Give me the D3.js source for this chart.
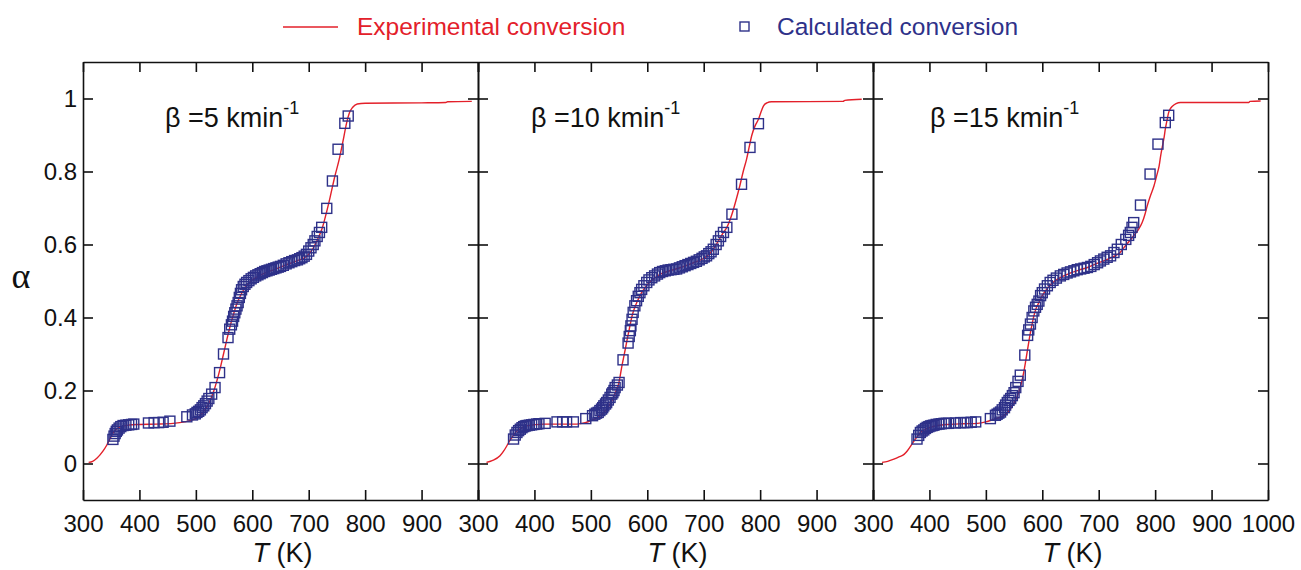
<!DOCTYPE html>
<html>
<head>
<meta charset="utf-8">
<script src="https://cdn.jsdelivr.net/npm/d3@7"></script>
<style>
  html, body { margin: 0; padding: 0; background: #fff; }
  svg { display: block; font-family: "Liberation Sans", Arial, Helvetica, sans-serif; }
</style>
</head>
<body>
<svg id="chart" width="1301" height="570"></svg>
<script>
// Heating rates, one panel each
const rates = [5, 10, 15];

// Temperature axis ticks (K) and conversion axis ticks
const tempTicks = [300, 400, 500, 600, 700, 800, 900, 1000];
const alphaTicks = [0, 0.2, 0.4, 0.6, 0.8, 1];

// Experimental conversion curves [T (K), alpha]
const exp5 = [[310,0.003],[317,0.006],[325,0.015],[335,0.033],[342,0.05],[348,0.068],[354,0.085],[360,0.095],[368,0.101],[380,0.105],[400,0.107],[430,0.108],[460,0.11],[480,0.114],[495,0.12],[505,0.128],[515,0.145],[524,0.168],[531,0.195],[537,0.225],[543,0.26],[549,0.3],[555,0.34],[560,0.372],[566,0.405],[572,0.435],[580,0.463],[590,0.488],[602,0.505],[618,0.519],[640,0.532],[660,0.544],[680,0.556],[696,0.567],[706,0.585],[716,0.615],[724,0.645],[731,0.685],[738,0.73],[746,0.785],[754,0.833],[761,0.885],[767,0.932],[772,0.96],[778,0.976],[786,0.985],[800,0.987],[900,0.988],[943,0.989],[946,0.991],[989,0.992]];

const exp10 = [[315,0.003],[325,0.008],[339,0.021],[345,0.033],[351,0.048],[356,0.062],[360,0.071],[365,0.082],[369,0.089],[377,0.097],[386,0.103],[400,0.106],[416,0.108],[440,0.108],[475,0.108],[490,0.112],[499,0.117],[508,0.123],[516,0.13],[522,0.138],[528,0.149],[534,0.163],[540,0.181],[545,0.2],[549,0.217],[552,0.24],[555,0.267],[558,0.29],[561,0.313],[564,0.337],[567,0.36],[570,0.383],[573,0.404],[577,0.424],[582,0.443],[590,0.468],[600,0.49],[612,0.507],[625,0.52],[640,0.528],[655,0.535],[670,0.543],[685,0.552],[700,0.562],[710,0.574],[717,0.587],[726,0.61],[735,0.633],[741,0.647],[750,0.683],[757,0.72],[764,0.761],[770,0.8],[776,0.834],[781,0.87],[785,0.898],[791,0.925],[797,0.943],[802,0.965],[806,0.98],[812,0.988],[820,0.991],[947,0.992],[950,0.995],[980,0.998]];

const exp15 = [[316,0.003],[326,0.006],[337,0.012],[346,0.018],[355,0.025],[361,0.035],[367,0.048],[371,0.058],[375,0.067],[380,0.077],[384,0.085],[392,0.093],[402,0.099],[415,0.104],[431,0.107],[460,0.109],[485,0.11],[500,0.114],[514,0.121],[524,0.126],[532,0.131],[540,0.143],[547,0.158],[553,0.175],[558,0.194],[563,0.22],[567,0.249],[570,0.275],[573,0.304],[576,0.332],[579,0.359],[582,0.382],[585,0.404],[589,0.425],[594,0.441],[600,0.46],[610,0.482],[622,0.5],[635,0.512],[650,0.522],[665,0.53],[680,0.537],[695,0.547],[710,0.556],[725,0.566],[738,0.578],[745,0.592],[753,0.607],[762,0.624],[770,0.64],[777,0.66],[782,0.683],[786,0.706],[792,0.735],[798,0.761],[803,0.79],[807,0.815],[810,0.845],[813,0.87],[816,0.895],[818,0.916],[821,0.94],[824,0.962],[827,0.972],[830,0.978],[837,0.986],[845,0.989],[966,0.989],[968,0.992],[987,0.993]];

// Calculated conversion points [T (K), alpha]
const calc5 = [[353,0.066],[355,0.075],[357,0.082],[359,0.088],[361,0.092],[364,0.097],[367,0.101],[371,0.104],[376,0.105],[381,0.106],[386,0.107],[390,0.108],[416,0.111],[426,0.112],[434,0.112],[442,0.113],[454,0.116],[484,0.128],[494,0.133],[499,0.136],[502,0.14],[505,0.143],[508,0.147],[511,0.153],[514,0.158],[517,0.164],[520,0.171],[523,0.178],[528,0.19],[534,0.208],[542,0.249],[549,0.3],[557,0.345],[560,0.368],[563,0.38],[565,0.39],[567,0.403],[569,0.413],[571,0.423],[573,0.432],[575,0.441],[577,0.455],[579,0.466],[581,0.476],[584,0.485],[587,0.491],[590,0.496],[594,0.501],[598,0.506],[602,0.51],[606,0.514],[610,0.517],[614,0.52],[618,0.523],[622,0.526],[626,0.528],[630,0.53],[634,0.532],[638,0.534],[642,0.536],[646,0.538],[650,0.54],[655,0.543],[660,0.547],[665,0.55],[670,0.553],[675,0.556],[680,0.558],[684,0.561],[688,0.564],[692,0.568],[696,0.573],[700,0.582],[704,0.591],[708,0.6],[711,0.61],[715,0.622],[719,0.633],[723,0.647],[732,0.699],[742,0.774],[752,0.861],[764,0.932],[770,0.952]];

const calc10 = [[363,0.067],[366,0.078],[369,0.085],[372,0.09],[375,0.094],[378,0.098],[381,0.101],[384,0.103],[387,0.104],[391,0.105],[395,0.106],[399,0.107],[404,0.108],[408,0.109],[419,0.11],[440,0.114],[450,0.114],[457,0.114],[469,0.114],[491,0.123],[503,0.131],[507,0.135],[510,0.138],[513,0.14],[516,0.145],[519,0.149],[521,0.153],[523,0.158],[526,0.163],[528,0.167],[531,0.174],[534,0.181],[537,0.19],[539,0.194],[541,0.2],[543,0.208],[547,0.215],[550,0.222],[557,0.284],[566,0.33],[568,0.348],[570,0.364],[571,0.377],[573,0.395],[575,0.414],[578,0.432],[581,0.446],[584,0.458],[587,0.468],[590,0.477],[594,0.487],[599,0.496],[603,0.503],[608,0.509],[613,0.514],[618,0.519],[622,0.523],[627,0.526],[632,0.528],[637,0.53],[642,0.531],[647,0.532],[652,0.533],[657,0.536],[662,0.539],[667,0.542],[672,0.545],[677,0.548],[682,0.551],[687,0.554],[692,0.558],[697,0.562],[701,0.566],[705,0.569],[709,0.575],[713,0.58],[717,0.587],[722,0.6],[726,0.61],[730,0.622],[735,0.633],[741,0.647],[750,0.683],[767,0.765],[782,0.866],[797,0.931]];

const calc15 = [[378,0.067],[381,0.077],[384,0.085],[387,0.089],[390,0.092],[393,0.096],[396,0.099],[399,0.101],[402,0.103],[405,0.104],[408,0.105],[412,0.107],[417,0.108],[421,0.109],[426,0.11],[430,0.11],[434,0.11],[446,0.111],[455,0.112],[461,0.112],[467,0.112],[474,0.113],[482,0.114],[508,0.123],[517,0.132],[520,0.135],[523,0.138],[526,0.141],[529,0.147],[533,0.153],[535,0.16],[538,0.167],[541,0.173],[544,0.178],[547,0.186],[550,0.194],[553,0.208],[557,0.225],[561,0.242],[569,0.297],[574,0.351],[576,0.366],[579,0.382],[582,0.4],[585,0.418],[588,0.428],[591,0.436],[594,0.445],[597,0.46],[600,0.468],[604,0.478],[609,0.487],[614,0.496],[619,0.502],[625,0.508],[632,0.514],[638,0.518],[644,0.522],[650,0.525],[656,0.528],[662,0.531],[668,0.533],[674,0.535],[680,0.537],[686,0.54],[692,0.545],[698,0.55],[703,0.555],[709,0.56],[715,0.565],[721,0.569],[727,0.578],[733,0.587],[740,0.6],[748,0.614],[753,0.625],[756,0.633],[759,0.647],[762,0.66],[774,0.708],[791,0.793],[805,0.875],[818,0.934],[824,0.954]];

const expSeries = [exp5, exp10, exp15];
const calcSeries = [calc5, calc10, calc15];

const RED = "#e3202a";
const BLUE = "#2e3189";

const svg = d3.select("#chart");

// Layout of the three side-by-side panels
const plotTop = 62, plotBottom = 500, panelW = 395;
const lefts = [83, 478, 873];
const labelOffsets = [82, 53, 57];

const y = d3.scaleLinear().domain([-0.1, 1.1]).range([plotBottom, plotTop]);

lefts.forEach((left, i) => {
  const x = d3.scaleLinear().domain([300, 1000]).range([left, left + panelW]);
  const g = svg.append("g");

  // inward ticks on all four sides
  const showLast = i === 2;
  const xb = d3.axisBottom(x).tickValues(tempTicks).tickSizeInner(-10).tickSizeOuter(0).tickPadding(15)
    .tickFormat(d => (d === 1000 && !showLast) ? "" : d);
  const xt = d3.axisTop(x).tickValues(tempTicks).tickSizeInner(-10).tickSizeOuter(0).tickFormat("");
  const yl = d3.axisLeft(y).tickValues(alphaTicks).tickSizeInner(-10).tickSizeOuter(0).tickPadding(6)
    .tickFormat(i === 0 ? d3.format("~g") : "");
  const yr = d3.axisRight(y).tickValues(alphaTicks).tickSizeInner(-10).tickSizeOuter(0).tickFormat("");

  g.append("g").attr("transform", `translate(0,${plotBottom})`).call(xb);
  g.append("g").attr("transform", `translate(0,${plotTop})`).call(xt);
  g.append("g").attr("transform", `translate(${left},0)`).call(yl);
  g.append("g").attr("transform", `translate(${left + panelW},0)`).call(yr);

  g.selectAll(".domain, .tick line").attr("stroke", "#111").attr("stroke-width", 1.6);
  g.selectAll(".tick text").attr("font-size", 24).attr("fill", "#111")
    .attr("font-family", "Liberation Sans, Arial, sans-serif");

  // experimental curve
  const line = d3.line().x(d => x(d[0])).y(d => y(d[1])).curve(d3.curveMonotoneX);
  g.append("path").datum(expSeries[i])
    .attr("d", line).attr("fill", "none").attr("stroke", RED).attr("stroke-width", 1.4);

  // calculated points as open squares
  const s = 10;
  g.selectAll("rect.calc").data(calcSeries[i]).join("rect").attr("class", "calc")
    .attr("x", d => x(d[0]) - s / 2).attr("y", d => y(d[1]) - s / 2)
    .attr("width", s).attr("height", s)
    .attr("fill", "none").attr("stroke", BLUE).attr("stroke-width", 1.4);

  // heating-rate annotation
  const t = g.append("text").attr("x", left + labelOffsets[i]).attr("y", 127)
    .attr("font-size", 27).attr("fill", "#111");
  t.append("tspan").text(`\u03b2 =${rates[i]} kmin`);
  t.append("tspan").attr("dy", -13).attr("font-size", 18).text("-1");

  // x-axis title
  const tt = g.append("text").attr("x", left + panelW / 2 + 2).attr("y", 562)
    .attr("text-anchor", "middle").attr("font-size", 27).attr("fill", "#111");
  tt.append("tspan").attr("font-style", "italic").text("T");
  tt.append("tspan").text(" (K)");
});

// y-axis title
svg.append("text").attr("x", 21).attr("y", 288).attr("text-anchor", "middle")
  .attr("font-family", "Liberation Serif, Times New Roman, serif").attr("font-size", 36)
  .attr("fill", "#111").text("\u03b1");

// legend
const leg = svg.append("g");
leg.append("line").attr("x1", 283).attr("x2", 338).attr("y1", 27).attr("y2", 27)
  .attr("stroke", RED).attr("stroke-width", 1.4);
leg.append("text").attr("x", 357).attr("y", 35).attr("font-size", 24.5).attr("fill", RED)
  .text("Experimental conversion");
leg.append("rect").attr("x", 740).attr("y", 22).attr("width", 9).attr("height", 9)
  .attr("fill", "none").attr("stroke", BLUE).attr("stroke-width", 1.4);
leg.append("text").attr("x", 777).attr("y", 35).attr("font-size", 24.5).attr("fill", BLUE)
  .text("Calculated conversion");
</script>
</body>
</html>
